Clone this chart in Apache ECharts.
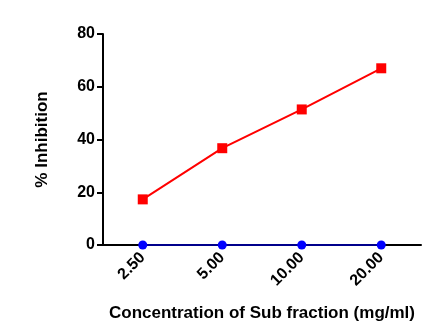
<!DOCTYPE html>
<html>
<head>
<meta charset="utf-8">
<script src="https://cdn.jsdelivr.net/npm/echarts@6/dist/echarts.min.js"></script>
<style>html,body{margin:0;padding:0;background:#fff;}#c{width:444px;height:329px;}</style>
</head>
<body>
<div id="c"></div>
<script>
var categories = ['2.50', '5.00', '10.00', '20.00'];
var subFraction = [17.3, 36.7, 51.4, 67.0];
var control = [0, 0, 0, 0];
var yTicks = [0, 20, 40, 60, 80];

var chart = echarts.init(document.getElementById('c'), null, {renderer: 'canvas'});
var font = 'Liberation Sans, Arial, sans-serif';
chart.setOption({
  animation: false,
  grid: {left: 103, right: 23, top: 34, bottom: 84, containLabel: false},
  xAxis: {
    type: 'category',
    data: categories,
    boundaryGap: true,
    name: 'Concentration of Sub fraction (mg/ml)',
    nameLocation: 'middle',
    nameGap: 60,
    nameTextStyle: {fontFamily: font, fontWeight: 'bold', fontSize: 17, color: '#000'},
    axisLine: {lineStyle: {color: '#000', width: 2}},
    axisTick: {show: false},
    axisLabel: {rotate: 45, fontFamily: font, fontWeight: 'bold', fontSize: 16, color: '#000', margin: 10},
    splitLine: {show: false}
  },
  yAxis: {
    type: 'value',
    min: yTicks[0],
    max: yTicks[yTicks.length - 1],
    interval: 20,
    name: '% Inhibition',
    nameLocation: 'middle',
    nameGap: 52,
    nameTextStyle: {fontFamily: font, fontWeight: 'bold', fontSize: 17, color: '#000'},
    axisLine: {show: true, lineStyle: {color: '#000', width: 2}},
    axisTick: {show: true, length: 6, lineStyle: {color: '#000', width: 2}},
    axisLabel: {fontFamily: font, fontWeight: 'bold', fontSize: 16, color: '#000', margin: 8},
    splitLine: {show: false}
  },
  series: [
    {
      type: 'line',
      data: control,
      symbol: 'circle',
      symbolSize: 9,
      itemStyle: {color: '#0000ff'},
      lineStyle: {color: '#00008b', width: 2},
      z: 3
    },
    {
      type: 'line',
      data: subFraction,
      symbol: 'rect',
      symbolSize: 10,
      itemStyle: {color: '#ff0000'},
      lineStyle: {color: '#ff0000', width: 2},
      z: 4
    }
  ]
});
</script>
</body>
</html>
